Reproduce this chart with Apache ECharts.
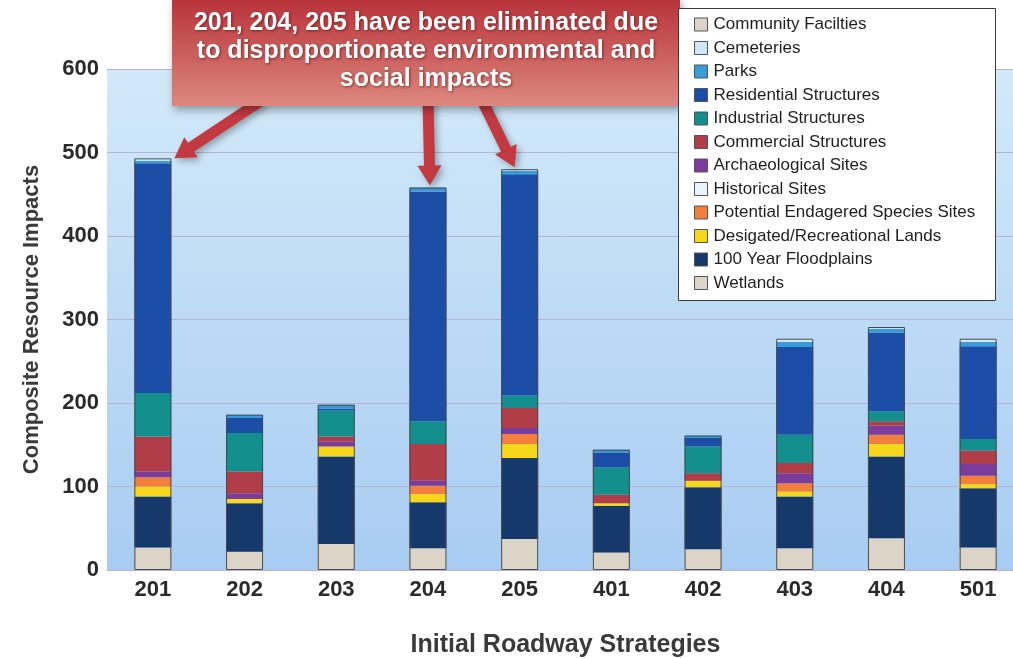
<!DOCTYPE html>
<html>
<head>
<meta charset="utf-8">
<title>Composite Resource Impacts</title>
<script src="https://cdn.jsdelivr.net/npm/echarts@6/dist/echarts.min.js"></script>
<style>
  html, body { margin: 0; padding: 0; background: #ffffff; }
  #chart { width: 1013px; height: 658px; }
</style>
</head>
<body>
<div id="chart"></div>
<script>
// Roadway strategies on the x axis
const categories = ['201', '202', '203', '204', '205', '401', '402', '403', '404', '501'];

// Impact components per strategy, stacked from the bottom up
const wetlands            = [27, 22, 31, 26, 37, 21, 25, 26, 38, 27];
const floodplains         = [61, 58, 105, 55, 97, 56, 74, 62, 98, 71];
const recreationalLands   = [12, 5, 12, 10, 17, 3, 8, 6, 15, 5];
const endangeredSpecies   = [11, 0, 0, 10, 12, 0, 0, 10, 11, 10];
const historicalSites     = [0, 0, 0, 0, 0, 0, 0, 0, 0, 0];
const archaeologicalSites = [7, 7, 6, 6, 7, 0, 0, 12, 11, 14];
const commercial          = [42, 26, 6, 44, 24, 10, 9, 12, 5, 16];
const industrial          = [52, 46, 31, 27, 15, 33, 32, 34, 12, 14];
const residential         = [275, 18, 2, 275, 265, 17, 10, 105, 94, 111];
const parks               = [3, 4, 5, 5, 4, 4, 3, 6, 5, 5];
const cemeteries          = [3, 0, 0, 0, 2, 0, 0, 4, 2, 4];
const communityFacilities = [0, 0, 0, 0, 0, 0, 0, 0, 0, 0];

const yTicks = [0, 100, 200, 300, 400, 500, 600];
const highlighted = ['201', '204', '205'];
const calloutLines = [
  '201, 204, 205 have been eliminated due',
  'to disproportionate environmental and',
  'social impacts'
];

const layers = [
  { name: 'Wetlands', data: wetlands, color: '#dcd4c6' },
  { name: '100 Year Floodplains', data: floodplains, color: '#15396b' },
  { name: 'Desigated/Recreational Lands', data: recreationalLands, color: '#f6d71c' },
  { name: 'Potential Endagered Species Sites', data: endangeredSpecies, color: '#f27f3d' },
  { name: 'Historical Sites', data: historicalSites, color: '#e8f5fb' },
  { name: 'Archaeological Sites', data: archaeologicalSites, color: '#7b3c9b' },
  { name: 'Commercial Structures', data: commercial, color: '#b03d47' },
  { name: 'Industrial Structures', data: industrial, color: '#138f8d' },
  { name: 'Residential Structures', data: residential, color: '#1d4ea7' },
  { name: 'Parks', data: parks, color: '#3b9bd9' },
  { name: 'Cemeteries', data: cemeteries, color: '#cde9f8' },
  { name: 'Community Facilties', data: communityFacilities, color: '#dcd4c6' }
];

const totals = categories.map((_, i) => layers.reduce((s, l) => s + l.data[i], 0));

const FONT = "'Liberation Sans', Arial, sans-serif";
const BAR_W = 37;

const series = layers.map(l => ({
  name: l.name,
  type: 'bar',
  stack: 'impacts',
  barWidth: BAR_W,
  data: l.data,
  itemStyle: { color: l.color },
  emphasis: { disabled: true }
}));

// outline drawn around each whole stacked column
series.push({
  name: 'outline',
  type: 'bar',
  barWidth: BAR_W,
  barGap: '-100%',
  data: totals,
  silent: true,
  z: 3,
  itemStyle: { color: 'rgba(0,0,0,0)', borderColor: '#4a4a4a', borderWidth: 1 }
});

const chart = echarts.init(document.getElementById('chart'), null, { renderer: 'canvas' });

const option = {
  animation: false,
  textStyle: { fontFamily: FONT },
  grid: {
    left: 107, right: -11, top: 69, bottom: 88,
    outerBoundsMode: 'none',
    containLabel: false,
    show: true,
    borderWidth: 0,
    backgroundColor: new echarts.graphic.LinearGradient(0, 0, 0, 1, [
      { offset: 0, color: '#d2e9f9' },
      { offset: 1, color: '#a8ccf2' }
    ])
  },
  legend: {
    orient: 'vertical',
    left: 694,
    top: 16,
    padding: 0,
    itemWidth: 13,
    itemHeight: 13,
    itemGap: 6.5,
    z: 40,
    icon: 'rect',
    data: layers.map(l => l.name).reverse(),
    itemStyle: { borderColor: '#555555', borderWidth: 1 },
    textStyle: { fontFamily: FONT, fontSize: 17, color: '#1e1e1e', lineHeight: 17, padding: [0, 0, 0, 1] },
    selectedMode: false
  },
  xAxis: {
    type: 'category',
    data: categories,
    name: 'Initial Roadway Strategies',
    nameLocation: 'middle',
    nameGap: 63,
    nameTextStyle: { fontFamily: FONT, fontSize: 25, fontWeight: 'bold', color: '#3a3a3a' },
    axisLine: { show: false },
    axisTick: { show: false },
    axisLabel: { fontFamily: FONT, fontSize: 22, fontWeight: 'bold', color: '#2a2a2a', margin: 9 }
  },
  yAxis: {
    type: 'value',
    min: yTicks[0],
    max: yTicks[yTicks.length - 1],
    interval: 100,
    name: 'Composite Resource Impacts',
    nameLocation: 'middle',
    nameGap: 64,
    nameTextStyle: { fontFamily: FONT, fontSize: 22, fontWeight: 'bold', color: '#3a3a3a' },
    axisLine: { show: false },
    axisTick: { show: false },
    axisLabel: { fontFamily: FONT, fontSize: 22, fontWeight: 'bold', color: '#2a2a2a', margin: 8 },
    splitLine: { lineStyle: { color: '#b9b3d1', width: 1 } }
  },
  series: series,
  graphic: [
    {
      id: 'legendBox',
      type: 'rect',
      z: 30,
      shape: { x: 678.5, y: 8.5, width: 317, height: 292 },
      style: { fill: '#ffffff', stroke: '#3a3a3a', lineWidth: 1 }
    },
    {
      id: 'calloutBox',
      type: 'rect',
      z: 20,
      shape: { x: 172, y: -2, width: 508, height: 108 },
      style: {
        fill: new echarts.graphic.LinearGradient(0, 0, 0, 1, [
          { offset: 0, color: '#b8323a' },
          { offset: 1, color: '#dc887e' }
        ]),
        shadowBlur: 8,
        shadowOffsetX: 2,
        shadowOffsetY: 4,
        shadowColor: 'rgba(0,0,0,0.35)'
      }
    },
    {
      id: 'calloutText',
      type: 'text',
      z: 21,
      x: 426,
      y: 9,
      style: {
        text: calloutLines.join('\n'),
        fontFamily: FONT,
        fontSize: 25,
        fontWeight: 'bold',
        lineHeight: 28,
        fill: '#ffffff',
        align: 'center',
        verticalAlign: 'top',
        textShadowColor: 'rgba(60,0,0,0.55)',
        textShadowBlur: 3,
        textShadowOffsetX: 1,
        textShadowOffsetY: 1
      }
    }
  ]
};

chart.setOption(option);

// Arrows from the callout to the tops of the eliminated strategies
function arrowPoints(s, t, shaftW, headW, headL) {
  const dx = t[0] - s[0], dy = t[1] - s[1];
  const len = Math.sqrt(dx * dx + dy * dy);
  const ux = dx / len, uy = dy / len;
  const nx = -uy, ny = ux;
  const bx = t[0] - ux * headL, by = t[1] - uy * headL;
  return [
    [s[0] + nx * shaftW / 2, s[1] + ny * shaftW / 2],
    [bx + nx * shaftW / 2, by + ny * shaftW / 2],
    [bx + nx * headW / 2, by + ny * headW / 2],
    [t[0], t[1]],
    [bx - nx * headW / 2, by - ny * headW / 2],
    [bx - nx * shaftW / 2, by - ny * shaftW / 2],
    [s[0] - nx * shaftW / 2, s[1] - ny * shaftW / 2]
  ];
}

const arrowStarts = { '201': [262, 100], '204': [428, 100], '205': [482, 100] };
const tipOffsets = { '201': [BAR_W / 2 + 3, 0], '204': [2, -2], '205': [-5, -2] };

const arrows = highlighted.map(code => {
  const i = categories.indexOf(code);
  const top = chart.convertToPixel({ xAxisIndex: 0, yAxisIndex: 0 }, [i, totals[i]]);
  const tip = [top[0] + tipOffsets[code][0], top[1] + tipOffsets[code][1]];
  return {
    id: 'arrow' + code,
    type: 'polygon',
    z: 10,
    shape: { points: arrowPoints(arrowStarts[code], tip, 11, 24, 20) },
    style: {
      fill: '#c23a40',
      shadowBlur: 6,
      shadowOffsetX: 3,
      shadowOffsetY: 3,
      shadowColor: 'rgba(0,0,0,0.3)'
    }
  };
});

chart.setOption({ graphic: arrows });
</script>
</body>
</html>
